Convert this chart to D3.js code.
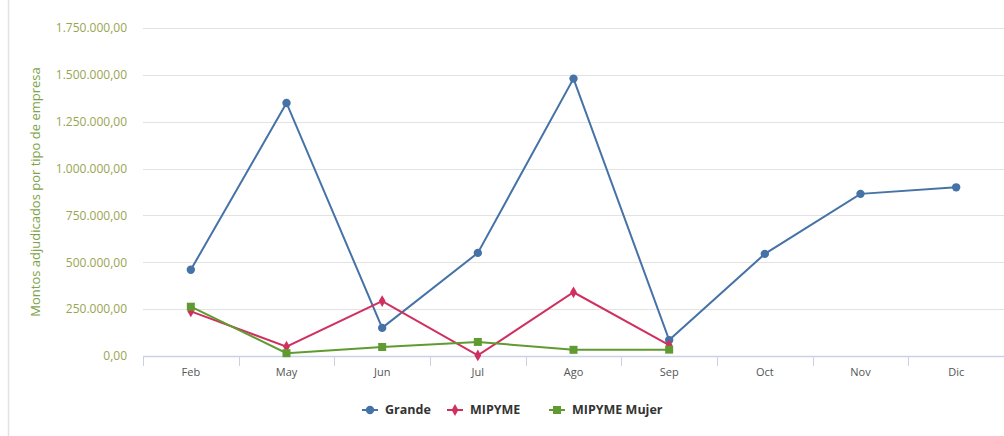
<!DOCTYPE html>
<html><head><meta charset="utf-8">
<script src="https://cdn.jsdelivr.net/npm/d3@7"></script>
<style>
html,body{margin:0;padding:0;background:#fff;}
svg{display:block;font-family:"Open Sans","DejaVu Sans",sans-serif;}
</style></head>
<body><svg id="c" width="1004" height="436"></svg>
<script>
const categories = ["Feb","May","Jun","Jul","Ago","Sep","Oct","Nov","Dic"];
const grande = [460000,1350000,150000,550000,1480000,85000,545000,865000,900000];
const mipyme = [238000,50000,293000,3000,340000,58000,null,null,null];
const mipymeMujer = [263000,15000,48000,75000,33000,34000,null,null,null];
const yTicks = [0,250000,500000,750000,1000000,1250000,1500000,1750000];
const yTitle = "Montos adjudicados por tipo de empresa";

const seriesList = [
  {name:"Grande", values:grande, color:"#4572a7", symbol:"circle"},
  {name:"MIPYME", values:mipyme, color:"#d0305f", symbol:"diamond"},
  {name:"MIPYME Mujer", values:mipymeMujer, color:"#5f9b30", symbol:"square"}
];

const FONT = '"Open Sans","DejaVu Sans",sans-serif';
const svg = d3.select("#c");
const mLeft = 143, mRight = 1004, mTop = 28, mBottom = 356;

svg.append("line").attr("x1",8.5).attr("x2",8.5).attr("y1",0).attr("y2",436)
  .attr("stroke","#e2e2e2").attr("stroke-width",1.5);

const x = d3.scaleBand().domain(categories).range([mLeft,mRight]);
const y = d3.scaleLinear().domain([0,1750000]).range([mBottom,mTop]);

const fmt = v => {
  const s = d3.format(",.2f")(v);
  return s.replace(/,/g,"#").replace(/\./g,",").replace(/#/g,".");
};

svg.append("g").selectAll("line").data(yTicks.filter(d=>d>0)).join("line")
  .attr("x1",mLeft).attr("x2",mRight)
  .attr("y1",d=>Math.round(y(d))+0.5).attr("y2",d=>Math.round(y(d))+0.5)
  .attr("stroke","#e3e3e3").attr("stroke-width",1);

const yAxis = d3.axisLeft(y).tickValues(yTicks).tickFormat(fmt).tickSize(0).tickPadding(0);
const gy = svg.append("g").attr("transform",`translate(127,0)`).call(yAxis)
  .attr("font-family",FONT).attr("font-size",12);
gy.select(".domain").remove();
gy.selectAll("text").attr("fill","#9aa552");

svg.append("text").attr("transform",`translate(40,192) rotate(-90)`)
  .attr("text-anchor","middle").attr("fill","#7ea34a").attr("font-size","13px").text(yTitle);

const xAxis = d3.axisBottom(x).tickSize(0).tickPadding(12);
const gx = svg.append("g").attr("transform",`translate(0,${mBottom})`).call(xAxis)
  .attr("font-family",FONT).attr("font-size",11);
gx.select(".domain").attr("stroke","#c8d2e2").attr("stroke-width",1.5).attr("d",`M${mLeft},0.5H${mRight}`);
gx.selectAll("text").attr("fill","#555");
const bounds = categories.map(c=>x(c));
gx.selectAll(".bnd").data(bounds).join("line").attr("class","bnd")
  .attr("x1",d=>Math.round(d)+0.5).attr("x2",d=>Math.round(d)+0.5)
  .attr("y1",0).attr("y2",10).attr("stroke","#c8d2e2").attr("stroke-width",1);

const cx = c => x(c) + x.bandwidth()/2;
const symSize = {circle:55, diamond:40, square:64};
const symType = {circle:d3.symbolCircle, diamond:d3.symbolDiamond, square:d3.symbolSquare};

seriesList.forEach(s => {
  const pts = categories.map((c,i)=>({c, v:s.values[i]})).filter(p=>p.v!==null);
  const line = d3.line().x(p=>cx(p.c)).y(p=>y(p.v));
  svg.append("path").datum(pts).attr("d",line).attr("fill","none")
    .attr("stroke",s.color).attr("stroke-width",2);
  svg.append("g").selectAll("path").data(pts).join("path")
    .attr("transform",p=>`translate(${cx(p.c)},${y(p.v)})`)
    .attr("d",d3.symbol().type(symType[s.symbol]).size(symSize[s.symbol]))
    .attr("fill",s.color);
});

const legendItems = [
  {x:362, s:seriesList[0]},
  {x:447, s:seriesList[1]},
  {x:549, s:seriesList[2]}
];
const lg = svg.append("g").attr("transform","translate(0,410)");
legendItems.forEach(it => {
  lg.append("line").attr("x1",it.x).attr("x2",it.x+16).attr("y1",0).attr("y2",0)
    .attr("stroke",it.s.color).attr("stroke-width",2);
  lg.append("path").attr("transform",`translate(${it.x+8},0)`)
    .attr("d",d3.symbol().type(symType[it.s.symbol]).size(symSize[it.s.symbol]))
    .attr("fill",it.s.color);
  lg.append("text").attr("x",it.x+23).attr("y",0).attr("dy","0.35em")
    .attr("font-size","12.5px").attr("font-weight","bold").attr("fill","#333")
    .text(it.s.name);
});
</script></body></html>
